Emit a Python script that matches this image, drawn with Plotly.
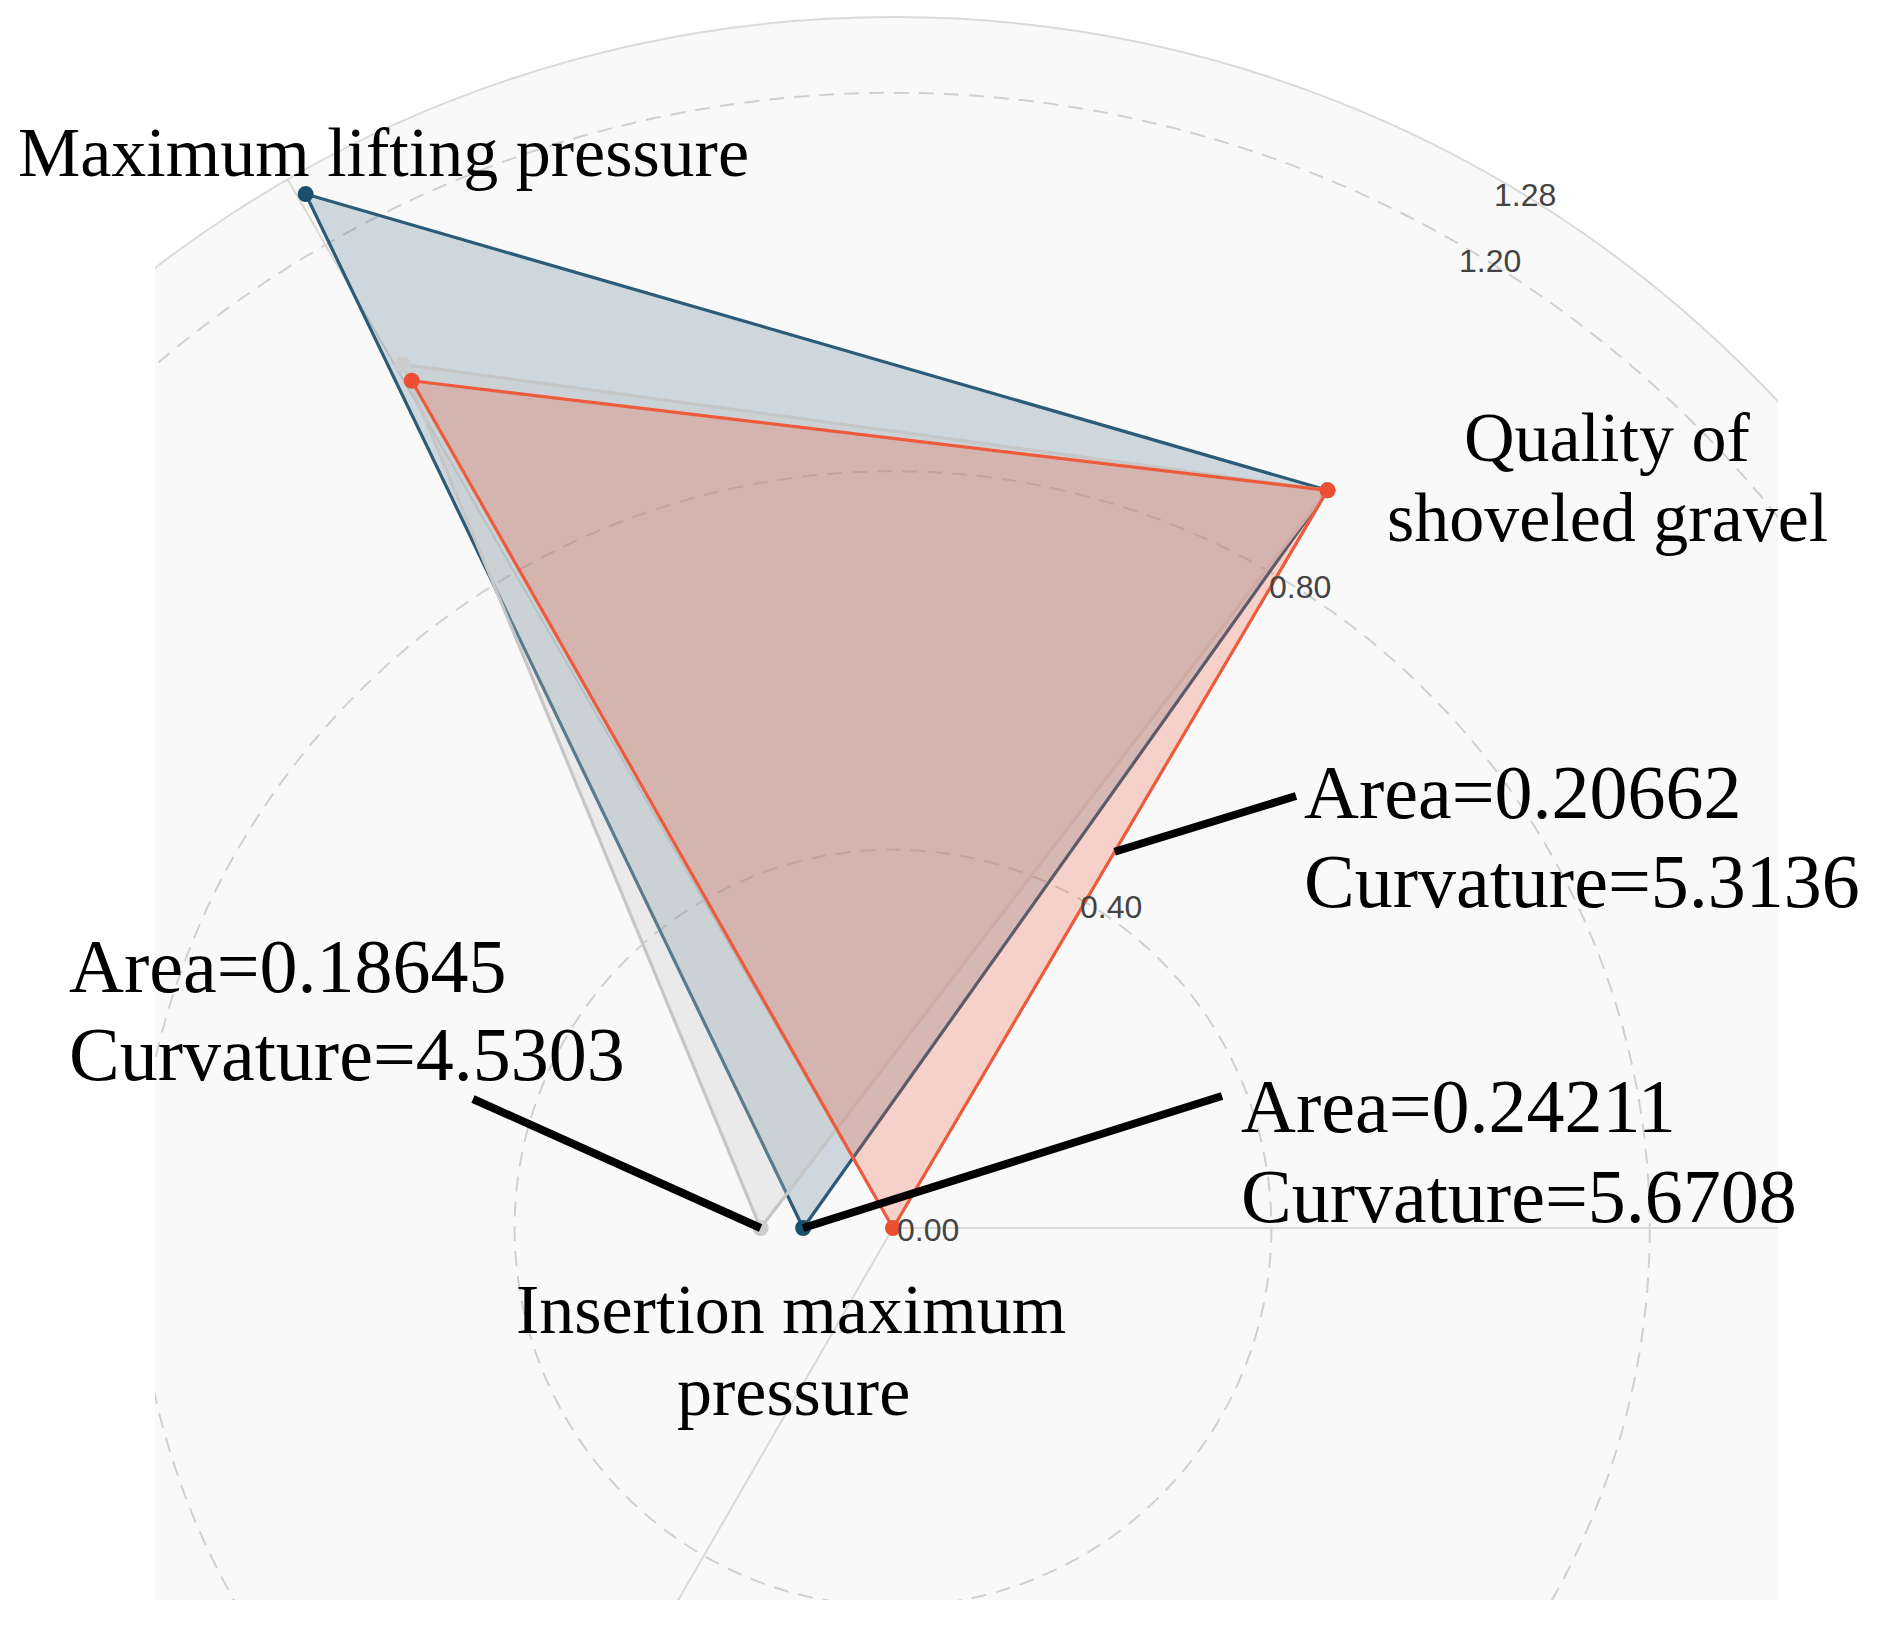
import numpy as np
import plotly.graph_objects as go

# ---------------- data ----------------
categories = ["Quality of shoveled gravel", "Maximum lifting pressure", "Insertion maximum pressure"]
category_angle_deg = [59.5, 119.6, 180]      # angular position of each category axis

blue_values = [0.905, 1.257, 0.095]
gray_values = [0.905, 1.050, 0.140]
red_values = [0.905, 1.030, 0.000]

radial_tick_values = [0.00, 0.40, 0.80, 1.20, 1.28]
radial_tick_labels = ["0.00", "0.40", "0.80", "1.20", "1.28"]
dashed_grid_values = [0.40, 0.80, 1.20]
radial_max = 1.28
angular_grid_deg = [0, 120, 240]
radial_axis_deg = 60

gray_note = ["Area=0.18645", "Curvature=4.5303"]
blue_note = ["Area=0.24211", "Curvature=5.6708"]
red_note = ["Area=0.20662", "Curvature=5.3136"]

# ---------------- layout geometry (screen pixels) ----------------
OFF = 8                      # default body margin of the html page
W, H = 1878 - OFF, 1628 - OFF
CX, CY = 893 - OFF, 1228 - OFF
PX_PER_UNIT = 946.0
PLOT_L, PLOT_R, PLOT_T, PLOT_B = 155 - OFF, 1778 - OFF, 0, 1600 - OFF

tick_xshift = [2, -4, -4, -4, -6]
tick_yshift = [-2, -7, -14, -16, -16]


def polar_to_xy(r, deg):
    r = np.asarray(r, dtype=float)
    th = np.deg2rad(np.asarray(deg, dtype=float))
    return r * np.cos(th), r * np.sin(th)


def px_to_data(px, py):
    return (px - OFF - CX) / PX_PER_UNIT, (CY - (py - OFF)) / PX_PER_UNIT


def closed(vals):
    return list(vals) + [vals[0]]


SERIF = "Liberation Serif, Times New Roman, serif"
SANS = "Liberation Sans, Arial, sans-serif"

fig = go.Figure()

series = [
    ("blue", blue_values, "#2b5b76", "rgba(30,80,110,0.20)", "#1b4f6b"),
    ("gray", gray_values, "#c6c6c6", "rgba(200,200,200,0.30)", "#cdcdcd"),
    ("red", red_values, "#ee5a3c", "rgba(238,90,60,0.25)", "#ec4f31"),
]
for name, vals, lc, fc, mc in series:
    x, y = polar_to_xy(closed(vals), closed(category_angle_deg))
    fig.add_trace(go.Scatter(
        x=x, y=y, mode="lines", fill="toself", fillcolor=fc,
        line=dict(color=lc, width=3.2), hoverinfo="skip", showlegend=False))
for name, vals, lc, fc, mc in series:
    x, y = polar_to_xy(vals, category_angle_deg)
    fig.add_trace(go.Scatter(
        x=x, y=y, mode="markers", marker=dict(color=mc, size=16),
        hoverinfo="skip", showlegend=False))

shapes = []
# polar background disc
shapes.append(dict(type="circle", xref="x", yref="y", x0=-radial_max, x1=radial_max,
                   y0=-radial_max, y1=radial_max, fillcolor="#f9f9f9",
                   line=dict(width=0), layer="below"))
# dashed circular grid
for v in dashed_grid_values:
    shapes.append(dict(type="circle", xref="x", yref="y", x0=-v, x1=v, y0=-v, y1=v,
                       line=dict(color="#d0d0d0", width=2, dash="15px,10px"), layer="below"))
# outer circle
shapes.append(dict(type="circle", xref="x", yref="y", x0=-radial_max, x1=radial_max,
                   y0=-radial_max, y1=radial_max, line=dict(color="#dadada", width=2),
                   layer="below"))
# angular grid lines
for a in angular_grid_deg:
    ex, ey = polar_to_xy(radial_max, a)
    shapes.append(dict(type="line", xref="x", yref="y", x0=0, y0=0, x1=float(ex), y1=float(ey),
                       line=dict(color="#d9d9d9", width=2), layer="below"))

# leader lines
gx, gy = polar_to_xy(gray_values[2], category_angle_deg[2])
bx, by = polar_to_xy(blue_values[2], category_angle_deg[2])
qx, qy = polar_to_xy(red_values[0], category_angle_deg[0])
ix, iy = polar_to_xy(red_values[2], category_angle_deg[2])
t = 0.51
rx, ry = ix + t * (qx - ix), iy + t * (qy - iy)
for (spx, spy), (ex, ey) in [((473, 1099), (gx, gy)), ((1222, 1096), (bx, by)),
                             ((1296, 796), (rx, ry))]:
    sx, sy = px_to_data(spx, spy)
    shapes.append(dict(type="line", xref="x", yref="y", x0=sx, y0=sy, x1=float(ex), y1=float(ey),
                       line=dict(color="black", width=8), layer="above"))

annotations = []
# radial tick labels along the radial axis
for v, lab, dx, dy in zip(radial_tick_values, radial_tick_labels, tick_xshift, tick_yshift):
    tx, ty = polar_to_xy(v, radial_axis_deg)
    annotations.append(dict(x=float(tx), y=float(ty), xref="x", yref="y", text=lab,
                            showarrow=False, xanchor="left", yanchor="middle", yshift=dy,
                            xshift=dx, font=dict(family=SANS, size=32, color="#444444")))


def paper_text(text, px, py, size, anchor="center"):
    annotations.append(dict(x=(px - OFF) / W, y=1 - (py - OFF) / H, xref="paper", yref="paper",
                            text=text, showarrow=False, xanchor=anchor, yanchor="middle",
                            font=dict(family=SERIF, size=size, color="black")))


F1 = 70
paper_text(categories[1], 383, 153, F1)
paper_text("Quality of", 1607, 437, F1)
paper_text("shoveled gravel", 1607, 517, F1)
paper_text("Insertion maximum", 791, 1309, F1)
paper_text("pressure", 793, 1391, F1)

F2 = 76
paper_text(red_note[0], 1302, 792, F2, "left")
paper_text(red_note[1], 1302, 881, F2, "left")
paper_text(gray_note[0], 67, 966, F2, "left")
paper_text(gray_note[1], 67, 1054, F2, "left")
paper_text(blue_note[0], 1239, 1106, F2, "left")
paper_text(blue_note[1], 1239, 1196, F2, "left")

x0, y1 = (PLOT_L - CX) / PX_PER_UNIT, (CY - PLOT_T) / PX_PER_UNIT
x1, y0 = (PLOT_R - CX) / PX_PER_UNIT, (CY - PLOT_B) / PX_PER_UNIT

fig.update_layout(
    width=W, height=H,
    margin=dict(l=0, r=0, t=0, b=0),
    paper_bgcolor="white", plot_bgcolor="white",
    xaxis=dict(domain=[PLOT_L / W, PLOT_R / W], range=[x0, x1], visible=False, fixedrange=True),
    yaxis=dict(domain=[1 - PLOT_B / H, 1 - PLOT_T / H], range=[y0, y1], visible=False, fixedrange=True),
    shapes=shapes, annotations=annotations, showlegend=False,
)

fig.write_html("out.html")
